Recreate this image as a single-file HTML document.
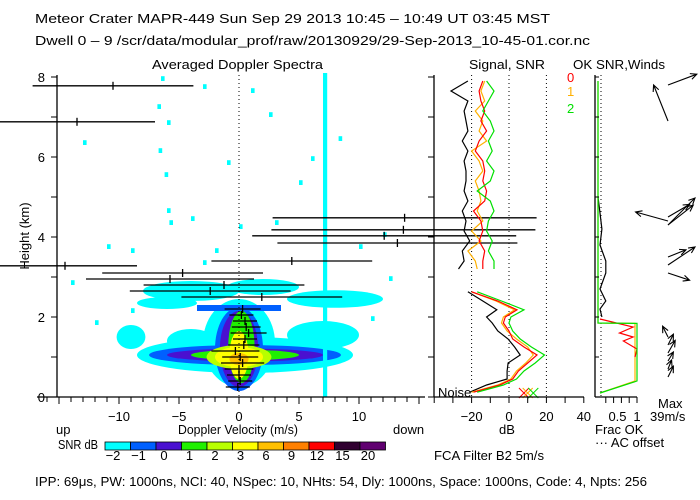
<!DOCTYPE html>
<html><head><meta charset="utf-8">
<style>
html,body{margin:0;padding:0;background:#fff;}
svg{display:block;font-family:"Liberation Sans",sans-serif;}
text{font-size:13px;fill:#000;}
</style></head>
<body>
<svg id="chart" width="700" height="500" viewBox="0 0 700 500" xmlns="http://www.w3.org/2000/svg">
<text x="35" y="23" textLength="515" lengthAdjust="spacingAndGlyphs">Meteor Crater   MAPR-449   Sun Sep 29 2013 10:45 – 10:49 UT 03:45 MST</text>
<text x="35" y="45" textLength="555" lengthAdjust="spacingAndGlyphs">Dwell  0 –  9    /scr/data/modular_prof/raw/20130929/29-Sep-2013_10-45-01.cor.nc</text>
<text x="152" y="69" textLength="171" lengthAdjust="spacingAndGlyphs">Averaged Doppler Spectra</text>
<text x="469" y="69" textLength="76" lengthAdjust="spacingAndGlyphs">Signal, SNR</text>
<text x="573" y="69" textLength="92" lengthAdjust="spacingAndGlyphs">OK SNR,Winds</text>
<text x="567" y="82" style="fill:#ff0000">0</text>
<text x="567" y="96" style="fill:#ffb000">1</text>
<text x="567" y="113" style="fill:#00e000">2</text>
<text transform="translate(29,236) rotate(-90)" text-anchor="middle">Height (km)</text>
<text x="178" y="434" textLength="120" lengthAdjust="spacingAndGlyphs">Doppler Velocity (m/s)</text>
<text x="56" y="434">up</text>
<text x="393" y="434">down</text>
<text x="58" y="449" textLength="40" lengthAdjust="spacingAndGlyphs">SNR dB</text>
<text x="507" y="434" text-anchor="middle">dB</text>
<text x="434" y="460" textLength="110" lengthAdjust="spacingAndGlyphs">FCA Filter B2   5m/s</text>
<text x="595" y="434">Frac OK</text>
<text x="595" y="447">··· AC offset</text>
<text x="658" y="408">Max</text>
<text x="650" y="421">39m/s</text>
<text x="438" y="397">Noise</text>
<text x="35" y="486" textLength="612" lengthAdjust="spacingAndGlyphs">IPP:  69μs,  PW: 1000ns,  NCI:  40,  NSpec: 10, NHts: 54,  Dly: 1000ns,  Space: 1000ns,  Code: 4,  Npts: 256</text>
<g id="spec"></g>
<g id="sig"></g>
<g id="win"></g>
<g id="cbar"></g>
</svg>
<script>
// ---- data ----
const cbLevels = ["-2","-1","0","1","2","3","6","9","12","15","20"];
const cbColors = ["#00ffff","#0060ff","#4a10d0","#20f000","#b8ff00","#ffff00","#ffc000","#ff8000","#ff0000","#300030","#600070"];
const xTicks = [-10,-5,0,5,10];
const yTicks = [0,2,4,6,8];
const dbTicks = [-20,0,20,40];
const fracTicks = [0.5,1];
// velocity moment bars: height (km), mean velocity (m/s), half-width (m/s)
const barH = [7.78,6.88,4.48,4.18,4.03,3.85,3.40,3.28,3.10,2.95,2.80,2.65,2.50,2.20,2.05,1.90,1.75,1.60,1.45,1.30,1.15,1.00,0.85,0.70,0.55,0.40,0.25];
const barV = [-10.5,-13.5,13.8,13.7,12.1,13.2,4.4,-14.5,-4.7,-5.75,-1.25,-2.4,1.9,0.3,0.2,0.5,0.6,0.8,0.5,0.4,-0.3,0.1,0.3,0,0,0.1,-0.1];
const barW = [6.7,6.5,11,11,11,10,6.7,6,6.7,7,6.7,6.7,6.7,1.5,1.0,1.0,1.2,1.5,1.0,1.3,2.0,1.5,1.8,1.2,1.0,1.0,1.0];
// signal panel
const sigHUp = [7.9,7.65,7.4,7.15,6.9,6.65,6.4,6.15,5.9,5.65,5.4,5.15,4.9,4.65,4.4,4.15,3.9,3.65,3.4,3.2];
const noiseUp = [-22,-31,-22,-24,-23,-22,-25,-22,-24,-23,-23,-24,-22,-25,-23,-24,-21,-25,-24,-27];
const snr0Up = [-14,-16,-15,-13,-15,-12,-16,-18,-14,-13,-14,-12,-13,-19,-15,-14,-16,-13,-14,-14];
const snr1Up = [-13,-15,-13,-18,-14,-16,-12,-20,-16,-14,-18,-16,-15,-17,-14,-20,-15,-22,-18,-17];
const snr2Up = [-12,-8,-11,-14,-10,-8,-11,-9,-12,-8,-10,-17,-10,-8,-11,-12,-9,-11,-8,-8];
const sigHLo = [2.63,2.40,2.18,2.00,1.85,1.65,1.45,1.25,1.05,0.85,0.65,0.45,0.30,0.12];
const noiseLo = [-22,-14,-6.5,-12,-9,-6,-0.5,3,6,-0.5,-1,-1,-12,-21];
const snr0Lo = [-20,-6,4.3,-2,-3,0,2,8,15,10,5,2,-5,-19];
const snr1Lo = [-20,-7,3,-3,-4,-1,4,10,13,9,4,1,-6,-20];
const snr2Lo = [-17,-4,8,1,0,2,6,12,19,14,8,4,-3,-17];
// winds panel: fraction OK per range gate
const fracH = [7.9,2.0,1.85,1.84,0.4,0.1];
const frac2 = [0,0,0,1,1,0.05];
const frac1 = [0,0,0,0.95,0.95,0.05];
const okH = [5.0,4.6,4.2,3.8,3.4,3.1,2.7,2.4,2.2,2.0];
const okSnr = [0,0.05,0.1,0.05,0.2,0.2,0.05,0.2,0.05,0.1];
const redH = [1.95,1.75,1.6,1.5,1.4,1.2,1.0];
const redF = [0.05,0.9,0.55,0.9,0.65,1,0.95];
// wind arrows: height (km), u, v (m/s, east/north)
const windH = [6.9,7.8,4.4,4.3,4.3,4.5,3.5,3.3,3.1,1.5,1.3,1.1,0.9,0.7,0.5];
const windU = [-8,16,-18,14,15,12,10,15,12,-3,3,4,3,2,3];
const windV = [20,6,5,11,15,7,4,10,-4,6,6,7,5,5,6];

const NS="http://www.w3.org/2000/svg";
function mk(tag,attrs,parent){const e=document.createElementNS(NS,tag);for(const k in attrs)e.setAttribute(k,attrs[k]);parent.appendChild(e);return e;}
// axes
const xV = v => 239 + v*12;
const yH = h => 397 - h*40;
const xDb = d => 509 + d*1.87;
const xFr = f => 598 + f*39;
const spec=document.getElementById('spec'), sig=document.getElementById('sig'), win=document.getElementById('win'), cbar=document.getElementById('cbar');

function blob(cv,ch,rv,rh,color,name){
  const e=mk('ellipse',{cx:xV(cv),cy:yH(ch),rx:rv*12,ry:rh*40,fill:color},spec);
  
  
}
function rect(v0,h0,v1,h1,color,name){
  const e=mk('rect',{x:xV(v0),y:yH(h1),width:(v1-v0)*12,height:(h1-h0)*40,fill:color},spec);
  
  
}
// patchy cyan upper cloud
blob(-4,2.65,4,0.25,"#00ffff","cyan-upper-left");
blob(2,2.75,3,0.2,"#00ffff","cyan-upper-mid");
blob(8,2.45,4,0.22,"#00ffff","cyan-upper-right");
blob(-6,2.35,2.5,0.15,"#00ffff","cyan-upper-low");
blob(-9,1.5,1.2,0.3,"#00ffff","cyan-left-patch");
blob(7,1.55,3,0.35,"#00ffff","cyan-right-patch");
blob(-4,1.4,2,0.3,"#00ffff","cyan-mid-left");
blob(0.5,1.05,9,0.45,"#00ffff","cyan-lower-arm");
blob(0,1.35,3,1.1,"#00ffff","cyan-core");
rect(-3.5,2.15,3.5,2.3,"#0060ff","blue-cap");
blob(0.5,1.05,8,0.25,"#0060ff","blue-arm");
blob(0,1.2,2,1.05,"#0060ff","blue-core");
blob(0.5,1.05,6.5,0.16,"#4a10d0","purple-arm");
blob(0,1.2,1.6,0.95,"#4a10d0","purple-core");
blob(0.5,1.05,4.5,0.13,"#20f000","green-arm");
blob(0.2,1.25,1.1,0.9,"#20f000","green-core");
blob(0,1.0,2.7,0.3,"#b8ff00","ygreen-core");
blob(0,1.0,2.0,0.25,"#ffff00","yellow-core");
blob(0,1.05,0.8,0.6,"#ffff00","yellow-column");
blob(0,0.95,0.8,0.15,"#ffc000","orange-core");
rect(7.0,0,7.35,8.1,"#00ffff","cyan-stripe");
const speck=[[-6.5,7.9],[-6.8,7.2],[-6,6.8],[-6.7,6.1],[-6.2,5.5],[-6,4.6],[-5.8,4.3],[-3,7.7],[1,7.6],[2.5,7.0],[-13,6.3],[-1,5.8],[6,5.9],[0,4.2],[3,4.3],[-2,3.6],[-9,3.6],[10,3.7],[12,4.0],[-11,3.7],[8.3,6.4],[5,5.3],[-4,4.4],[-9,2.1],[-12,1.8],[11,1.9],[12.5,2.9],[-3,3.3],[-14,2.8]];
speck.forEach(p=>rect(p[0],p[1],p[0]+0.3,p[1]+0.12,"#00ffff","speckle"));
mk('line',{x1:xV(0),y1:75,x2:xV(0),y2:397,stroke:"#000","stroke-dasharray":"1,3"},spec);
barH.forEach((h,i)=>{
  const y=yH(h);
  const l=mk('line',{x1:Math.max(0,xV(barV[i]-barW[i])),y1:y,x2:xV(barV[i]+barW[i]),y2:y,stroke:"#000","stroke-width":1.3},spec);
  
  
  mk('line',{x1:xV(barV[i]),y1:y-4,x2:xV(barV[i]),y2:y+4,stroke:"#000","stroke-width":1.3},spec);
});
mk('line',{x1:57,y1:75,x2:57,y2:397,stroke:"#000","stroke-width":1.3},spec);
mk('line',{x1:37,y1:397,x2:425,y2:397,stroke:"#000","stroke-width":1.3},spec);
for(let h=0;h<=8;h++){mk('line',{x1:51,y1:yH(h),x2:57,y2:yH(h),stroke:"#000"},spec);}
yTicks.forEach(t=>{const e=mk('text',{x:45,y:yH(t)+5,'text-anchor':'end'},spec);e.textContent=t;});
for(let v=-16;v<=15;v++){mk('line',{x1:xV(v),y1:397,x2:xV(v),y2:v%5===0?404:402,stroke:"#000"},spec);}
xTicks.forEach(t=>{const e=mk('text',{x:xV(t),y:421,'text-anchor':'middle'},spec);e.textContent=t===0?"0":(t<0?"−"+(-t):t);});

// ---- signal panel ----
[-20,0,20].forEach(d=>mk('line',{x1:xDb(d),y1:75,x2:xDb(d),y2:397,stroke:"#000","stroke-dasharray":"1,3"},sig));
function series(hs,vals,color,name,g,xf){
  const pts=hs.map((h,i)=>xf(vals[i]).toFixed(1)+","+yH(h).toFixed(1)).join(" ");
  const p=mk('polyline',{points:pts,fill:"none",stroke:color,"stroke-width":1.2},g);
  
  
}
series(sigHUp,noiseUp,"#000","noise-upper",sig,xDb);
series(sigHUp,snr1Up,"#ffb000","snr1-upper",sig,xDb);
series(sigHUp,snr0Up,"#ff0000","snr0-upper",sig,xDb);
series(sigHUp,snr2Up,"#00e000","snr2-upper",sig,xDb);
series(sigHLo,noiseLo,"#000","noise-lower",sig,xDb);
series(sigHLo,snr1Lo,"#ffb000","snr1-lower",sig,xDb);
series(sigHLo,snr0Lo,"#ff0000","snr0-lower",sig,xDb);
series(sigHLo,snr2Lo,"#00e000","snr2-lower",sig,xDb);
[[8,"#ff0000"],[10,"#ffb000"],[13,"#00e000"]].forEach(c=>{
  const x=xDb(c[0]);
  mk('path',{d:`M${x-5},${398} L${x+5},${388} M${x-5},${388} L${x+5},${398}`,stroke:c[1],fill:"none"},sig);
});
mk('line',{x1:434,y1:75,x2:434,y2:397,stroke:"#000","stroke-width":1.3},sig);
mk('line',{x1:434,y1:397,x2:584,y2:397,stroke:"#000","stroke-width":1.3},sig);
for(let h=0;h<=8;h++){mk('line',{x1:428,y1:yH(h),x2:434,y2:yH(h),stroke:"#000"},sig);}
for(let d=-40;d<=40;d+=10){mk('line',{x1:xDb(d),y1:397,x2:xDb(d),y2:403,stroke:"#000"},sig);}
dbTicks.forEach(t=>{const e=mk('text',{x:xDb(t),y:421,'text-anchor':'middle'},sig);e.textContent=t<0?"−"+(-t):t;});

// ---- winds panel ----
mk('line',{x1:601,y1:75,x2:601,y2:397,stroke:"#000","stroke-dasharray":"1,3"},win);
series(okH,okSnr,"#000","ok-snr-line",win,xFr);
series(fracH,frac1,"#ffb000","frac-ok-1",win,xFr);
series(redH,redF,"#ff0000","frac-ok-0",win,xFr);
series(fracH,frac2,"#00e000","frac-ok-2",win,xFr);
mk('line',{x1:595,y1:75,x2:595,y2:397,stroke:"#000","stroke-width":1.3},win);
mk('line',{x1:595,y1:397,x2:637,y2:397,stroke:"#000","stroke-width":1.3},win);
for(let h=0;h<=8;h++){mk('line',{x1:595,y1:yH(h),x2:599,y2:yH(h),stroke:"#000"},win);}
for(let f=0.2;f<=1.01;f+=0.2){mk('line',{x1:xFr(f),y1:397,x2:xFr(f),y2:403,stroke:"#000"},win);}
fracTicks.forEach(t=>{const e=mk('text',{x:xFr(t),y:421,'text-anchor':'middle'},win);e.textContent=t;});
windH.forEach((h,i)=>{
  const x0=668,y0=yH(h),s=1.8;
  const x1=x0+windU[i]*s,y1=y0-windV[i]*s;
  const ang=Math.atan2(y1-y0,x1-x0),L=7;
  const a1=ang+2.7,a2=ang-2.7;
  const p=mk('path',{d:`M${x0},${y0} L${x1},${y1} M${x1+L*Math.cos(a1)},${y1+L*Math.sin(a1)} L${x1},${y1} L${x1+L*Math.cos(a2)},${y1+L*Math.sin(a2)}`,stroke:"#000",fill:"none","stroke-width":1.1},win);
  
  
});

// ---- colorbar ----
const cbX=105,cbW=25.5,cbY=442;
cbColors.forEach((c,i)=>{
  const r=mk('rect',{x:cbX+i*cbW,y:cbY,width:cbW,height:8,fill:c,stroke:"#000","stroke-width":0.8},cbar);
  
  
  const t=mk('text',{x:cbX+i*cbW+8,y:460,'text-anchor':'middle'},cbar);
  t.textContent=cbLevels[i].replace("-","−");
});
</script>
</body></html>
